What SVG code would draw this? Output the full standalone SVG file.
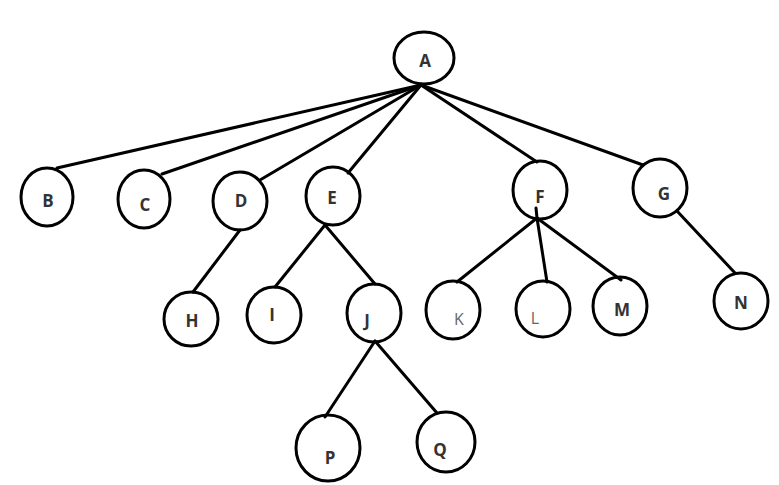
<svg xmlns="http://www.w3.org/2000/svg" width="779" height="485" viewBox="0 0 779 485">
<style>
.n{fill:none;stroke:#000;stroke-width:3}
.e{stroke:#000;stroke-width:3;fill:none;stroke-linecap:round}
.t{font-family:"Open Sans","DejaVu Sans",sans-serif;font-weight:bold;font-size:17px;fill:#333;text-anchor:middle;dominant-baseline:central}
.l{font-family:"Open Sans","DejaVu Sans",sans-serif;font-size:16px;fill:#666;text-anchor:middle;dominant-baseline:central}
</style>
<rect width="779" height="485" fill="#fff"/>
<g id="connectors">
<line class="e" x1="421" y1="85" x2="57" y2="168"/>
<line class="e" x1="421" y1="85" x2="162" y2="174"/>
<line class="e" x1="421" y1="85" x2="260" y2="180"/>
<line class="e" x1="421" y1="85" x2="348" y2="173"/>
<line class="e" x1="421" y1="85" x2="537" y2="162"/>
<line class="e" x1="421" y1="85" x2="643" y2="165"/>
<line class="e" x1="240" y1="230" x2="193" y2="292"/>
<line class="e" x1="325" y1="225" x2="275" y2="287"/>
<line class="e" x1="325" y1="225" x2="375" y2="284"/>
<line class="e" x1="536" y1="208" x2="537" y2="218"/>
<line class="e" x1="537" y1="218" x2="457" y2="282"/>
<line class="e" x1="537" y1="218" x2="547" y2="282"/>
<line class="e" x1="537" y1="218" x2="621" y2="280"/>
<line class="e" x1="677" y1="211" x2="735" y2="273"/>
<line class="e" x1="375" y1="341" x2="325" y2="417"/>
<line class="e" x1="375" y1="341" x2="437" y2="413"/>
</g>
<g id="A"><ellipse class="n" cx="424" cy="58" rx="30" ry="26"/><text class="t" x="425" y="60">A</text></g>
<g id="B"><ellipse class="n" cx="47" cy="197" rx="26" ry="29"/><text class="t" x="48" y="200">B</text></g>
<g id="C"><ellipse class="n" cx="144" cy="199" rx="26" ry="29"/><text class="t" x="145" y="204">C</text></g>
<g id="D"><ellipse class="n" cx="240" cy="201" rx="27" ry="29"/><text class="t" x="241" y="200">D</text></g>
<g id="E"><ellipse class="n" cx="333" cy="196" rx="27" ry="29"/><text class="t" x="332" y="197">E</text></g>
<g id="F"><ellipse class="n" cx="540" cy="190" rx="27" ry="29"/><text class="t" x="540" y="196">F</text></g>
<g id="G"><ellipse class="n" cx="660" cy="188" rx="27" ry="29"/><text class="t" x="664" y="193">G</text></g>
<g id="H"><ellipse class="n" cx="191" cy="319" rx="27" ry="27"/><text class="t" x="192" y="320">H</text></g>
<g id="I"><ellipse class="n" cx="274" cy="315" rx="27" ry="28"/><text class="t" x="272" y="314">I</text></g>
<g id="J"><ellipse class="n" cx="374" cy="313" rx="27" ry="29"/><text class="t" x="367" y="320">J</text></g>
<g id="K"><ellipse class="n" cx="453" cy="310" rx="27" ry="29"/><text class="l" x="459" y="319">K</text></g>
<g id="L"><ellipse class="n" cx="543" cy="309" rx="27" ry="28"/><text class="l" x="535" y="318">L</text></g>
<g id="M"><ellipse class="n" cx="620" cy="306" rx="27" ry="29"/><text class="t" x="622" y="309">M</text></g>
<g id="N"><ellipse class="n" cx="741" cy="301" rx="27" ry="28"/><text class="t" x="741" y="302">N</text></g>
<g id="P"><ellipse class="n" cx="328" cy="448" rx="32" ry="33"/><text class="t" x="330" y="457">P</text></g>
<g id="Q"><ellipse class="n" cx="446" cy="442" rx="29" ry="30"/><text class="t" x="440" y="449">Q</text></g>
</svg>
